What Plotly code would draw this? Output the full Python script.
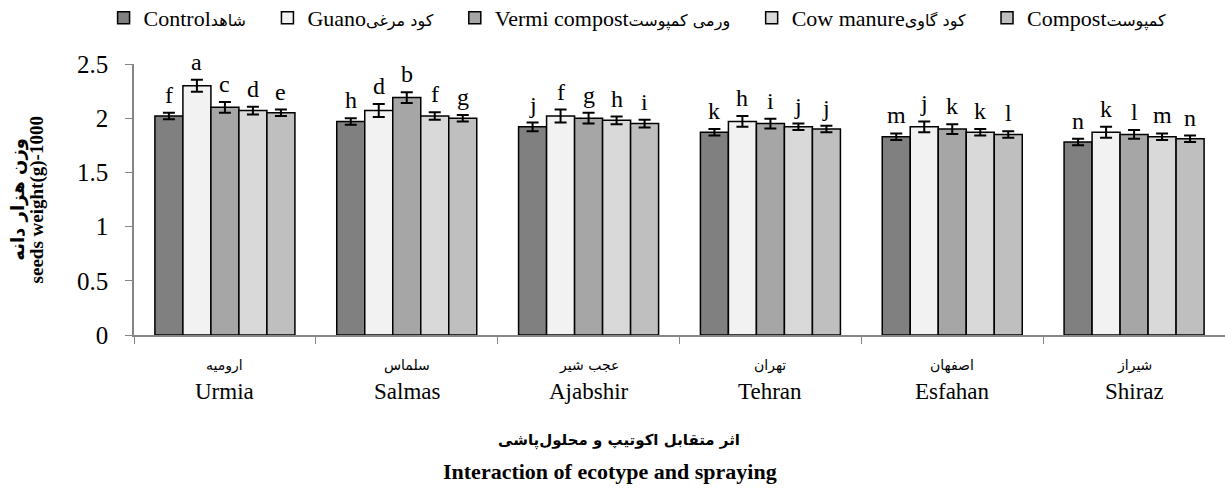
import plotly.graph_objects as go

categories = ["Urmia", "Salmas", "Ajabshir", "Tehran", "Esfahan", "Shiraz"]
categories_fa = ["ارومیه", "سلماس", "عجب شیر", "تهران", "اصفهان", "شیراز"]

series_en = ["Control", "Guano", "Vermi compost", "Cow manure", "Compost"]
series_fa = ["شاهد", "کود مرغی", "ورمی کمپوست", "کود گاوی", "کمپوست"]

control = [2.02, 1.97, 1.92, 1.87, 1.83, 1.78]
guano = [2.30, 2.07, 2.02, 1.97, 1.92, 1.87]
vermi = [2.10, 2.19, 2.00, 1.95, 1.90, 1.85]
cow = [2.07, 2.02, 1.98, 1.92, 1.87, 1.83]
compost = [2.05, 2.00, 1.95, 1.90, 1.85, 1.81]

err_control = [0.03, 0.03, 0.04, 0.03, 0.03, 0.03]
err_guano = [0.055, 0.06, 0.06, 0.05, 0.05, 0.05]
err_vermi = [0.05, 0.05, 0.05, 0.045, 0.045, 0.04]
err_cow = [0.035, 0.035, 0.035, 0.03, 0.03, 0.03]
err_compost = [0.03, 0.03, 0.035, 0.03, 0.03, 0.03]

letters_control = ["f", "h", "j", "k", "m", "n"]
letters_guano = ["a", "d", "f", "h", "j", "k"]
letters_vermi = ["c", "b", "g", "i", "k", "l"]
letters_cow = ["d", "f", "h", "j", "k", "m"]
letters_compost = ["e", "g", "i", "j", "l", "n"]

colors = ["#808080", "#F2F2F2", "#A6A6A6", "#D9D9D9", "#BFBFBF"]

values = [control, guano, vermi, cow, compost]
errors = [err_control, err_guano, err_vermi, err_cow, err_compost]
letters = [letters_control, letters_guano, letters_vermi, letters_cow, letters_compost]

SERIF = "Liberation Serif, Times New Roman, serif"
FA = "DejaVu Sans, sans-serif"
BARGAP = 0.23
NBSP = "\u00a0"

fig = go.Figure()
for en, fa, vals, errs, col in zip(series_en, series_fa, values, errors, colors):
    fig.add_trace(go.Bar(
        x=categories, y=vals,
        name=f"{en}<span style='font-family:{FA};font-size:16px'>{fa}</span>" + NBSP * 3,
        marker=dict(color=col, line=dict(color="black", width=1.5)),
        error_y=dict(type="data", array=errs, visible=True,
                     color="black", thickness=2, width=6),
    ))

annotations = []
n = len(values)
w = (1 - BARGAP) / n
for j, (vals, errs, labs) in enumerate(zip(values, errors, letters)):
    for i, (v, e, lab) in enumerate(zip(vals, errs, labs)):
        annotations.append(dict(
            x=i + (j - (n - 1) / 2) * w, y=v + e, xref="x", yref="y",
            text=lab, showarrow=False, yanchor="bottom", yshift=3,
            font=dict(family=SERIF, size=24, color="black")))

for c, cf in zip(categories, categories_fa):
    annotations.append(dict(x=c, y=-0.111, xref="x", yref="paper", text=cf,
                            showarrow=False, yanchor="middle",
                            font=dict(family=FA, size=14, color="black")))
    annotations.append(dict(x=c, y=-0.207, xref="x", yref="paper", text=c,
                            showarrow=False, yanchor="middle",
                            font=dict(family=SERIF, size=23, color="black")))

# axis titles
annotations += [
    dict(x=-0.107, y=0.5, xref="paper", yref="paper", text="<b>وزن هزار دانه</b>",
         textangle=-90, showarrow=False, xanchor="center", yanchor="middle",
         font=dict(family=FA, size=18, color="black")),
    dict(x=-0.089, y=0.5, xref="paper", yref="paper", text="<b>seeds weight(g)-1000</b>",
         textangle=-90, showarrow=False, xanchor="center", yanchor="middle",
         font=dict(family=SERIF, size=19, color="black")),
    dict(x=0.445, y=-0.391, xref="paper", yref="paper", text="<b>اثر متقابل اکوتیپ و محلول‌پاشی</b>",
         showarrow=False, xanchor="center", yanchor="middle",
         font=dict(family=FA, size=15, color="black")),
    dict(x=0.436, y=-0.502, xref="paper", yref="paper", text="<b>Interaction of ecotype and spraying</b>",
         showarrow=False, xanchor="center", yanchor="middle",
         font=dict(family=SERIF, size=22, color="black")),
]

fig.update_layout(
    width=1225, height=489,
    margin=dict(l=134, r=0, t=64, b=154, autoexpand=False),
    paper_bgcolor="white", plot_bgcolor="white",
    barmode="group", bargap=BARGAP, bargroupgap=0,
    showlegend=True,
    legend=dict(orientation="h", xref="container", yref="container",
                x=0.527, xanchor="center", y=1 - 18 / 489, yanchor="middle",
                font=dict(family=SERIF, size=22, color="black"),
                itemclick=False, tracegroupgap=0),
    annotations=annotations,
    xaxis=dict(showticklabels=False, showline=True, linecolor="#868686", linewidth=1.5,
               ticks="outside", tickson="boundaries", ticklen=7, tickcolor="#868686",
               showgrid=False, zeroline=False),
    yaxis=dict(range=[0, 2.5], dtick=0.5, showline=True, linecolor="#868686", linewidth=1.5,
               ticks="outside", ticklen=7, tickcolor="#868686", showgrid=False,
               zeroline=False, ticklabelstandoff=12,
               tickfont=dict(family=SERIF, size=25, color="black")),
)

fig.write_html("out.html", config={"displayModeBar": False},
               post_script="document.body.style.margin='0';document.body.style.overflow='hidden';")
